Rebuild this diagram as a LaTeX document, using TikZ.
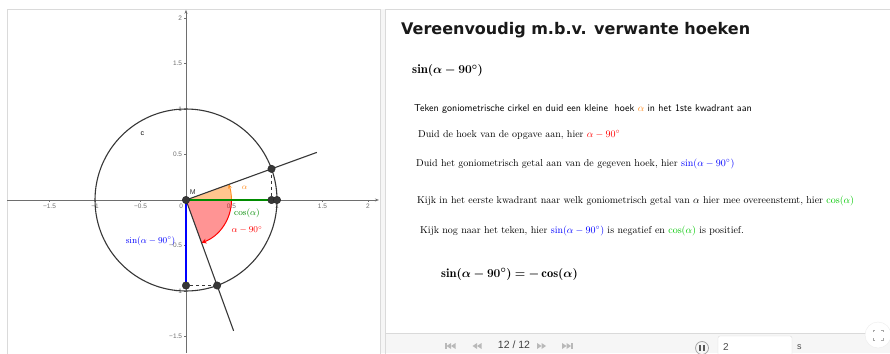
\documentclass[tikz,border=0pt]{standalone}
\usepackage{fontspec}
\usepackage{amsmath}
\usepackage{bm}
\newfontfamily\uifont{Liberation Sans}
\newfontfamily\titelfont{DejaVu Sans}
\usetikzlibrary{arrows.meta, calc}
\definecolor{hoekoranje}{RGB}{255,140,30}
\definecolor{cosgroen}{RGB}{0,140,0}
\definecolor{lichtgroen}{RGB}{0,200,0}
\definecolor{sinblauw}{RGB}{0,0,255}
\definecolor{lijngrijs}{RGB}{55,55,55}
\definecolor{asgrijs}{RGB}{110,110,110}
\definecolor{randgrijs}{RGB}{218,218,218}
\definecolor{balkgrijs}{RGB}{246,246,246}

\begin{document}
\begin{tikzpicture}[
    x=1pt, y=-1pt,
    lijn/.style={draw=lijngrijs, line width=1.1pt},
    as/.style={draw=asgrijs, line width=0.7pt},
    punt/.style={circle, fill=lijngrijs, draw=black!85, inner sep=0pt, minimum size=7.5pt},
    schaal/.style={font=\uifont\fontsize{6.5}{7}\selectfont, text=asgrijs, inner sep=1pt},
    uitleg/.style={anchor=base west, inner sep=0pt, font=\fontsize{10}{12}\selectfont},
    knop/.style={fill=gray!55, draw=none},
    >=Stealth
]
    \useasboundingbox (0,0) rectangle (890,353);

    % Panels
    \fill[white] (0,0) rectangle (890,353);
    \fill[balkgrijs] (380,9) rectangle (385,353);
    \draw[randgrijs] (7,9) rectangle (380,360);
    \draw[randgrijs] (385,9) rectangle (891,360);

    % Goniometric circle
    \begin{scope}[shift={(186,200)}, x=91pt, y=91pt]
        \clip (-1.967,-1.68) rectangle (2.14,2.10);
        \coordinate (M) at (0,0);
        \coordinate (E) at (1,0);
        \coordinate (P) at (20:1);
        \coordinate (Q) at ({cos(20)},0);
        \coordinate (S) at (-70:1);
        \coordinate (R) at (0,{sin(-70)});
        \coordinate (A1) at (20:1.53);
        \coordinate (A2) at (-70:1.53);

        % Axes with ticks
        \draw[as, -{Stealth[length=4pt, width=3pt]}] (-1.967,0) -- (2.12,0);
        \draw[as, -{Stealth[length=4pt, width=3pt]}] (0,-1.70) -- (0,2.09);
        \foreach \t/\l in {-1.5/−1.5, -1/−1, -0.5/−0.5, 0.5/0.5, 1/1, 1.5/1.5, 2/2} {
            \draw[as] (\t,0) -- (\t,-0.025);
            \node[schaal, anchor=north] (xl\t) at (\t,-0.03) {\l};
            \draw[as] (0,\t) -- (-0.025,\t);
            \node[schaal, anchor=east] (yl\t) at (-0.03,\t) {\l};
        }
        \node[schaal, anchor=north east] (nul) at (-0.02,-0.03) {0};

        % Circle c
        \draw[lijn] (M) circle[radius=1];
        \node[font=\uifont\fontsize{7}{8}\selectfont] (c) at (-0.48,0.73) {c};

        % Angle alpha and alpha - 90
        \fill[hoekoranje, opacity=0.5] (M) -- (0.5,0) arc[start angle=0, end angle=20, radius=0.5] -- cycle;
        \draw[hoekoranje, line width=0.9pt, -{Stealth[length=4pt, width=4pt]}] (0.5,0) arc[start angle=0, end angle=20, radius=0.5];
        \fill[red, opacity=0.42] (M) -- (0.5,0) arc[start angle=0, end angle=-70, radius=0.5] -- cycle;
        \draw[red, line width=1pt, -{Stealth[length=5pt, width=5pt]}] (0.5,0) arc[start angle=0, end angle=-70, radius=0.5];

        % Legs of the angles
        \draw[lijn] (M) -- (A1);
        \draw[lijn] (M) -- (A2);

        % cos(alpha) and sin(alpha - 90)
        \draw[cosgroen, line width=2pt] (M) -- (Q);
        \draw[sinblauw, line width=2pt] (M) -- (R);
        \draw[lijngrijs, line width=0.9pt, dashed] (P) -- (Q);
        \draw[lijngrijs, line width=0.9pt, dashed] (S) -- (R);

        % Points
        \node[punt] (Mpunt) at (M) {};
        \node[punt] (Ppunt) at (P) {};
        \node[punt] (Qpunt) at (Q) {};
        \node[punt] (Epunt) at (E) {};
        \node[punt] (Rpunt) at (R) {};
        \node[punt] (Spunt) at (S) {};

        % Labels
        \node[font=\uifont\fontsize{7}{8}\selectfont, text=lijngrijs] (Mlabel) at (0.075,0.085) {M};
        \node[text=hoekoranje, font=\footnotesize] (alabel) at (0.645,0.135) {$\alpha$};
        \node[text=cosgroen, font=\small] (coslabel) at (0.67,-0.15) {$\cos(\alpha)$};
        \node[text=red, font=\small] (hoeklabel) at (0.67,-0.33) {$\alpha-90^\circ$};
        \node[text=sinblauw, font=\small] (sinlabel) at (-0.39,-0.45) {$\sin(\alpha-90^\circ)$};
    \end{scope}

    % Explanation
    \node[anchor=base west, inner sep=0pt, font=\titelfont\bfseries\fontsize{16}{19}\selectfont, text=black!90] (titel) at (401,35) {Vereenvoudig m.b.v. verwante hoeken};
    \node[anchor=base west, inner sep=0pt, font=\fontsize{12.8}{16}\selectfont] (opgave) at (412,74) {$\bm{\sin(\alpha-90^\circ)}$};
    \node[uitleg, font=\sffamily\fontsize{10}{12}\selectfont] (stap1) at (414,111) {Teken goniometrische cirkel en duid een kleine~ hoek \textcolor{hoekoranje}{$\alpha$} in het 1ste kwadrant aan};
    \node[uitleg] (stap2) at (418,137) {Duid de hoek van de opgave aan, hier \textcolor{red}{$\alpha-90^\circ$}};
    \node[uitleg] (stap3) at (416,166) {Duid het goniometrisch getal aan van de gegeven hoek, hier \textcolor{sinblauw}{$\sin(\alpha-90^\circ)$}};
    \node[uitleg] (stap4) at (417,203) {Kijk in het eerste kwadrant naar welk goniometrisch getal van $\alpha$ hier mee overeenstemt, hier \textcolor{lichtgroen}{$\cos(\alpha)$}};
    \node[uitleg] (stap5) at (420,233) {Kijk nog naar het teken, hier \textcolor{sinblauw}{$\sin(\alpha-90^\circ)$} is negatief en \textcolor{lichtgroen}{$\cos(\alpha)$} is positief.};
    \node[anchor=base west, inner sep=0pt, font=\fontsize{12.5}{15}\selectfont] (besluit) at (441,277) {$\bm{\sin(\alpha-90^\circ)=-\cos(\alpha)}$};

    % Toolbar
    \fill[balkgrijs] (385.5,333) rectangle (890,353);
    \draw[randgrijs] (385.5,333) -- (890,333);
    % first / previous
    \fill[knop] (445,343) rectangle (446.5,349);
    \fill[knop] (451,343) -- (446.5,346) -- (451,349) -- cycle;
    \fill[knop] (455.5,343) -- (451,346) -- (455.5,349) -- cycle;
    \fill[knop] (477,343) -- (472.5,346) -- (477,349) -- cycle;
    \fill[knop] (481.5,343) -- (477,346) -- (481.5,349) -- cycle;
    \node[font=\uifont\fontsize{10.5}{12}\selectfont, text=black!75] (stand) at (514,345) {12 / 12};
    % next / last
    \fill[knop] (537,343) -- (541.5,346) -- (537,349) -- cycle;
    \fill[knop] (541.5,343) -- (546,346) -- (541.5,349) -- cycle;
    \fill[knop] (562,343) -- (566.5,346) -- (562,349) -- cycle;
    \fill[knop] (566.5,343) -- (571,346) -- (566.5,349) -- cycle;
    \fill[knop] (571,343) rectangle (572.5,349);
    % pause
    \draw[gray!70, line width=0.8pt] (702,348) circle[radius=6.5];
    \fill[black!65] (699.3,344.5) rectangle (701,351);
    \fill[black!65] (703,344.5) rectangle (704.7,351);
    % interval
    \draw[randgrijs, fill=white, rounded corners=2pt] (718,336) rectangle (792,360);
    \node[font=\uifont\fontsize{10}{12}\selectfont, text=black!70, anchor=west, inner sep=0pt] (interval) at (723,347) {2};
    \node[font=\uifont\fontsize{9}{11}\selectfont, text=black!70, anchor=west, inner sep=0pt] (sec) at (797,347) {s};
    % full screen
    \draw[gray!15, fill=white] (878,335) circle[radius=13];
    \draw[gray!70, line width=0.8pt] (873,332) -- (873,330) -- (875,330)
        (881,330) -- (883,330) -- (883,332)
        (883,338) -- (883,340) -- (881,340)
        (875,340) -- (873,340) -- (873,338);
\end{tikzpicture}
\end{document}
